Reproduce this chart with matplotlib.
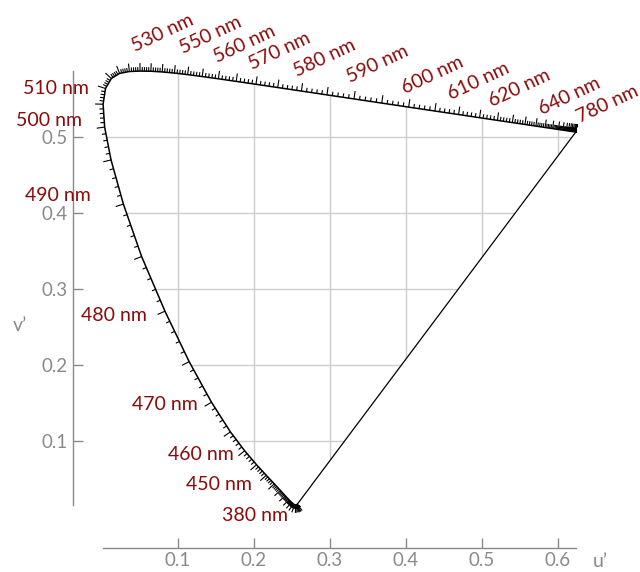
import numpy as np
import matplotlib.pyplot as plt
from matplotlib.collections import LineCollection
from matplotlib.patches import Polygon

# CIE 1931 2° spectral locus chromaticity (x, y), 5 nm steps, 380-780 nm
wavelengths = np.arange(380, 785, 5)
cie_x = [0.1741, 0.1740, 0.1738, 0.1736, 0.1733, 0.1730, 0.1726, 0.1721,
         0.1714, 0.1703, 0.1689, 0.1669, 0.1644, 0.1611, 0.1566, 0.1510,
         0.1440, 0.1355, 0.1241, 0.1096, 0.0913, 0.0687, 0.0454, 0.0235,
         0.0082, 0.0039, 0.0139, 0.0389, 0.0743, 0.1142, 0.1547, 0.1929,
         0.2296, 0.2658, 0.3016, 0.3373, 0.3731, 0.4087, 0.4441, 0.4788,
         0.5125, 0.5448, 0.5752, 0.6029, 0.6270, 0.6482, 0.6658, 0.6801,
         0.6915, 0.7006, 0.7079, 0.7140, 0.7190, 0.7230, 0.7260, 0.7283,
         0.7300, 0.7311, 0.7320, 0.7327, 0.7334, 0.7340, 0.7344, 0.7346,
         0.7347, 0.7347, 0.7347, 0.7347, 0.7347, 0.7347, 0.7347, 0.7347,
         0.7347, 0.7347, 0.7347, 0.7347, 0.7347, 0.7347, 0.7347, 0.7347,
         0.7347]
cie_y = [0.0050, 0.0050, 0.0049, 0.0049, 0.0048, 0.0048, 0.0048, 0.0048,
         0.0051, 0.0058, 0.0069, 0.0086, 0.0109, 0.0138, 0.0177, 0.0227,
         0.0297, 0.0399, 0.0578, 0.0868, 0.1327, 0.2007, 0.2950, 0.4127,
         0.5384, 0.6548, 0.7502, 0.8120, 0.8338, 0.8262, 0.8059, 0.7816,
         0.7543, 0.7243, 0.6923, 0.6589, 0.6245, 0.5896, 0.5547, 0.5202,
         0.4866, 0.4544, 0.4242, 0.3965, 0.3725, 0.3514, 0.3340, 0.3197,
         0.3083, 0.2993, 0.2920, 0.2859, 0.2809, 0.2770, 0.2740, 0.2717,
         0.2700, 0.2689, 0.2680, 0.2673, 0.2666, 0.2660, 0.2656, 0.2654,
         0.2653, 0.2653, 0.2653, 0.2653, 0.2653, 0.2653, 0.2653, 0.2653,
         0.2653, 0.2653, 0.2653, 0.2653, 0.2653, 0.2653, 0.2653, 0.2653,
         0.2653]

left_labels = [380, 450, 460, 470, 480, 490, 500, 510]
top_labels = [530, 550, 560, 570, 580, 590, 600, 610, 620, 640, 780]
u_ticks = [0.1, 0.2, 0.3, 0.4, 0.5, 0.6]
v_ticks = [0.1, 0.2, 0.3, 0.4, 0.5]

# label offsets in pixels (dx, dy), y up
left_offsets = {380: (-9, -11), 450: (-14, -9), 460: (-11, -4), 470: (-14, -2),
                480: (-18, -4), 490: (-33, 9), 500: (-23, 7), 510: (-17, 0)}
top_offsets = {530: (-5, 19), 550: (-5, 21), 560: (-1, 16), 570: (-4, 14),
               580: (-4, 14), 590: (-4, 16), 600: (-4, 13), 610: (-8, 15),
               620: (-5, 13), 640: (-3, 12), 780: (4, 9)}

LABEL_COLOR = "#8b0a0a"
AXIS_COLOR = "#8a8a8a"
FONT = ["Lato", "DejaVu Sans"]
PX = 760.0  # pixels per unit u'/v'
PT = 0.72   # points per pixel at dpi 100

plt.rcParams["font.family"] = FONT


def xy_to_uv(x, y):
    x = np.asarray(x)
    y = np.asarray(y)
    d = -2 * x + 12 * y + 3
    return 4 * x / d, 9 * y / d


u, v = xy_to_uv(cie_x, cie_y)

fig = plt.figure(figsize=(6.4, 5.72), dpi=100)
xlim = (0.0, 0.66)
ylim = (0.0, 0.62)
left = 102 / 640
bottom = (572 - 517) / 572
ax = fig.add_axes([left, bottom, (xlim[1] - xlim[0]) * PX / 640,
                   (ylim[1] - ylim[0]) * PX / 572])
ax.set_xlim(*xlim)
ax.set_ylim(*ylim)

# grid clipped to the gamut
gamut = Polygon(np.column_stack([u, v]), closed=True, transform=ax.transData)
for t in u_ticks:
    ln, = ax.plot([t, t], ylim, color="#cccccc", lw=1, zorder=1)
    ln.set_clip_path(gamut)
for t in v_ticks:
    ln, = ax.plot(xlim, [t, t], color="#cccccc", lw=1, zorder=1)
    ln.set_clip_path(gamut)

# locus and purple line
ax.plot(u, v, color="black", lw=1.1, zorder=3, clip_on=False)
ax.plot([u[0], u[-1]], [v[0], v[-1]], color="black", lw=0.9, zorder=3, clip_on=False)

# wavelength ticks every nm along the locus
wl_fine = np.arange(380, 781)
uf = np.interp(wl_fine, wavelengths, u)
vf = np.interp(wl_fine, wavelengths, v)
du = np.gradient(uf)
dv = np.gradient(vf)
norm = np.hypot(du, dv)
nu = np.zeros_like(uf)
nv = np.zeros_like(vf)
last = (-1.0, 0.0)
for i in range(len(wl_fine)):
    if norm[i] > 1e-9:
        last = (-dv[i] / norm[i], du[i] / norm[i])
    nu[i], nv[i] = last

segs = []
for i, wl in enumerate(wl_fine):
    if wl % 5 == 0:
        L = 8 / PX
    else:
        L = 4 / PX
    segs.append([(uf[i], vf[i]), (uf[i] + nu[i] * L, vf[i] + nv[i] * L)])
ax.add_collection(LineCollection(segs, colors="black", linewidths=0.8,
                                 zorder=3, clip_on=False))

# wavelength labels
for wl in left_labels:
    i = wl - 380
    dx, dy = left_offsets[wl]
    ax.annotate(f"{wl} nm", (uf[i], vf[i]), xytext=(dx * PT, dy * PT),
                textcoords="offset points", ha="right", va="center",
                color=LABEL_COLOR, fontsize=14, annotation_clip=False)
for wl in top_labels:
    i = wl - 380
    dx, dy = top_offsets[wl]
    ax.annotate(f"{wl} nm", (uf[i], vf[i]), xytext=(dx * PT, dy * PT),
                textcoords="offset points", ha="left", va="baseline",
                rotation=25, rotation_mode="anchor",
                color=LABEL_COLOR, fontsize=14, annotation_clip=False)

# range-frame axes
for s in ["top", "right"]:
    ax.spines[s].set_visible(False)
ax.spines["left"].set_position(("outward", 29 * PT))
ax.spines["bottom"].set_position(("outward", 31 * PT))
ax.spines["left"].set_bounds(v.min(), v.max())
ax.spines["bottom"].set_bounds(u.min(), u.max())
for s in ["left", "bottom"]:
    ax.spines[s].set_color(AXIS_COLOR)
    ax.spines[s].set_linewidth(1)
ax.set_xticks(u_ticks)
ax.set_yticks(v_ticks)
ax.set_xticklabels([f"{t:.1f}" for t in u_ticks])
ax.set_yticklabels([f"{t:.1f}" for t in v_ticks])
ax.tick_params(direction="in", length=7, width=1, colors=AXIS_COLOR,
               labelsize=13.5)
ax.tick_params(axis="x", pad=3)
ax.tick_params(axis="y", pad=4)

ax.text(0.655, -0.059, "u\u2019", color=AXIS_COLOR, fontsize=14,
        ha="center", va="center", clip_on=False)
ax.text(-0.108, 0.2526, "v\u2019", color=AXIS_COLOR, fontsize=14,
        ha="center", va="center", clip_on=False)

fig.savefig("out.png", dpi=100)
